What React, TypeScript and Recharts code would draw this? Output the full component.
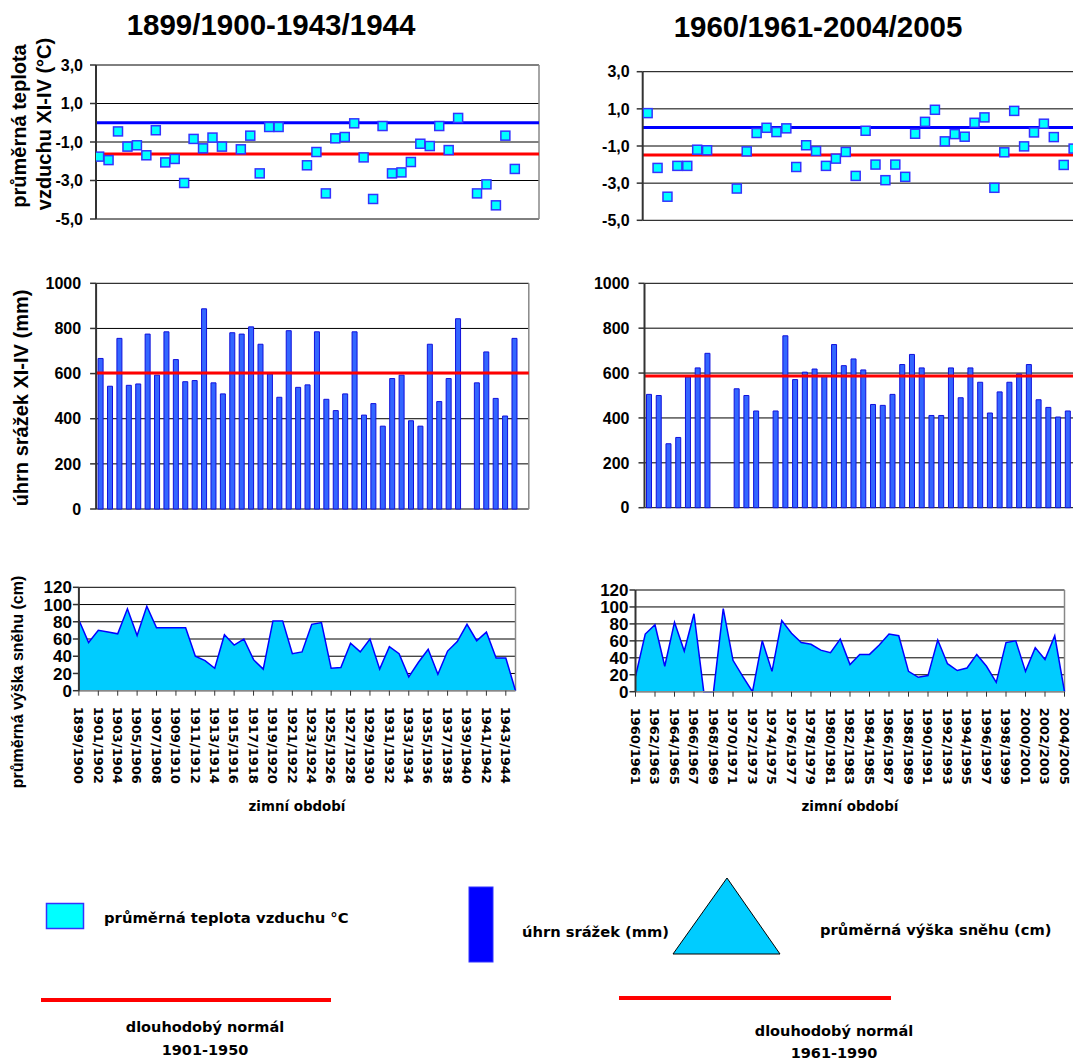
import React from "react";
import {
  ScatterChart,
  Scatter,
  BarChart,
  Bar,
  AreaChart,
  Area,
  XAxis,
  YAxis,
  CartesianGrid,
  ReferenceLine,
} from "recharts";

const ARIAL = "'Liberation Sans', Arial, sans-serif";
const DEJAVU = "'DejaVu Sans', Verdana, sans-serif";

// zimní období
const SEASONS_OLD = [
  "1899/1900", "1900/1901", "1901/1902", "1902/1903", "1903/1904", "1904/1905", "1905/1906", "1906/1907",
  "1907/1908", "1908/1909", "1909/1910", "1910/1911", "1911/1912", "1912/1913", "1913/1914", "1914/1915",
  "1915/1916", "1916/1917", "1917/1918", "1918/1919", "1919/1920", "1920/1921", "1921/1922", "1922/1923",
  "1923/1924", "1924/1925", "1925/1926", "1926/1927", "1927/1928", "1928/1929", "1929/1930", "1930/1931",
  "1931/1932", "1932/1933", "1933/1934", "1934/1935", "1935/1936", "1936/1937", "1937/1938", "1938/1939",
  "1939/1940", "1940/1941", "1941/1942", "1942/1943", "1943/1944", "1944/1945",
];
const SEASONS_NEW = [
  "1960/1961", "1961/1962", "1962/1963", "1963/1964", "1964/1965", "1965/1966", "1966/1967", "1967/1968",
  "1968/1969", "1969/1970", "1970/1971", "1971/1972", "1972/1973", "1973/1974", "1974/1975", "1975/1976",
  "1976/1977", "1977/1978", "1978/1979", "1979/1980", "1980/1981", "1981/1982", "1982/1983", "1983/1984",
  "1984/1985", "1985/1986", "1986/1987", "1987/1988", "1988/1989", "1989/1990", "1990/1991", "1991/1992",
  "1992/1993", "1993/1994", "1994/1995", "1995/1996", "1996/1997", "1997/1998", "1998/1999", "1999/2000",
  "2000/2001", "2001/2002", "2002/2003", "2003/2004", "2004/2005",
];

// průměrná teplota vzduchu XI-IV (°C)
const TEMP_OLD = [
  -1.76, -1.94, -0.45, -1.24, -1.17, -1.69, -0.39, -2.06, -1.88, -3.13,
  -0.84, -1.33, -0.77, -1.24, null, -1.38, -0.67, -2.63, -0.22, -0.22,
  null, null, -2.21, -1.52, -3.67, -0.81, -0.74, -0.03, -1.8, -3.96,
  -0.17, -2.63, -2.58, -2.04, -1.09, -1.21, -0.17, -1.42, 0.25, null,
  -3.67, -3.2, -4.29, -0.67, -2.4,
];
const TEMP_NEW = [
  0.77, -2.18, -3.73, -2.07, -2.07, -1.2, -1.23, null, null, -3.29,
  -1.29, -0.3, -0.02, -0.25, -0.05, -2.13, -0.96, -1.27, -2.07, -1.68,
  -1.32, -2.61, -0.18, -2.0, -2.84, -2.0, -2.66, -0.34, 0.3, 0.95,
  -0.75, -0.36, -0.5, 0.25, 0.54, -3.25, -1.34, 0.89, -1.02, -0.27,
  0.2, -0.52, -2.02, -1.14, null,
];
const TEMP_ZERO = 0;
const TEMP_NORMAL_OLD = -1.62;
const TEMP_NORMAL_NEW = -1.48;

// úhrn srážek XI-IV (mm)
const PRECIP_OLD = [
  667, 544, 756, 548, 554, 775, 593, 785, 662, 564,
  569, 887, 559, 510, 781, 775, 807, 730, 599, 495,
  790, 539, 550, 785, 486, 436, 510, 785, 416, 467,
  367, 578, 593, 391, 367, 730, 476, 578, 843, null,
  559, 696, 490, 412, 756, null,
];
const PRECIP_NEW = [
  505, 500, 285, 313, 583, 623, 688, null, null, 530,
  500, 431, null, 431, 766, 571, 604, 618, 586, 727,
  633, 663, 614, 460, 456, 505, 638, 683, 623, 411,
  411, 623, 490, 623, 559, 422, 516, 559, 596, 638,
  481, 447, 404, 431, null,
];
const PRECIP_NORMAL_OLD = 603;
const PRECIP_NORMAL_NEW = 587;

// průměrná výška sněhu (cm)
const SNOW_OLD = [
  82, 56, 70, 68, 66, 95, 64, 98, 73, 73,
  73, 73, 40, 35, 26, 65, 53, 60, 36, 25,
  81, 81, 43, 45, 77, 79, 26, 27, 55, 45,
  60, 25, 51, 43, 16, 33, 48, 19, 46, 57,
  77, 58, 68, 38, 38, 0,
];
const SNOW_NEW = [
  18, 68, 79, 30, 82, 48, 92, 0, 0, 98,
  37, 18, 0, 60, 24, 84, 69, 58, 56, 49,
  46, 62, 32, 44, 44, 55, 68, 66, 24, 17,
  19, 61, 33, 25, 28, 44, 30, 11, 58, 60,
  24, 52, 38, 66, 0,
];

const TEMP_TICKS = [-5, -3, -1, 1, 3];
const PRECIP_TICKS = [0, 200, 400, 600, 800, 1000];
const SNOW_TICKS = [0, 20, 40, 60, 80, 100, 120];

const fmtTemp = (v: number) => v.toFixed(1).replace(".", ",");
const rightBorder = ({ offset }: any) => [offset.left + offset.width];

const yTick = (size: number) => ({ fontSize: size, fontWeight: 700, fill: "#000", fontFamily: ARIAL });

const Square = (p: any) =>
  p.cx == null ? null : (
    <rect x={p.cx - 4.5} y={p.cy - 4.5} width={9} height={9} fill="#00ffff" stroke="#3333ff" strokeWidth={1.5} />
  );

const SeasonTick = (props: any) => {
  const { x, y, payload } = props;
  return (
    <text
      transform={`translate(${x - 4.7},${y}) rotate(90)`}
      fontFamily={DEJAVU}
      fontWeight={700}
      fontSize={13}
      fill="#000"
      textAnchor="start"
    >
      {payload.value}
    </text>
  );
};

interface Box {
  left: number;
  top: number;
  width: number;
  height: number;
  margin: { top: number; right: number; bottom: number; left: number };
}

const TempChart = ({ values, normal, box, domain }: { values: (number | null)[]; normal: number; box: Box; domain: [number, number] }) => {
  const data = values.map((t, i) => ({ x: i + 1, t })).filter((d) => d.t !== null);
  return (
    <div style={{ position: "absolute", left: box.left, top: box.top }}>
      <ScatterChart width={box.width} height={box.height} margin={box.margin}>
        <CartesianGrid vertical={false} stroke="#000" />
        <CartesianGrid horizontal={false} stroke="#888" strokeWidth={1.5} verticalCoordinatesGenerator={rightBorder} />
        <XAxis type="number" dataKey="x" domain={domain} allowDataOverflow height={0} tick={false} tickLine={false} axisLine={{ stroke: "#888", strokeWidth: 1.5 }} />
        <YAxis
          type="number"
          dataKey="t"
          domain={[-5, 3]}
          ticks={TEMP_TICKS}
          interval={0}
          width={60}
          tickSize={6}
          tickMargin={7}
          tickFormatter={fmtTemp}
          tick={yTick(16)}
          axisLine={{ stroke: "#333", strokeWidth: 2 }}
          tickLine={{ stroke: "#333", strokeWidth: 1.5 }}
        />
        <ReferenceLine y={TEMP_ZERO} stroke="#0000ff" strokeWidth={3} />
        <ReferenceLine y={normal} stroke="#ff0000" strokeWidth={3} />
        <Scatter data={data} shape={Square} isAnimationActive={false} />
      </ScatterChart>
    </div>
  );
};

const PrecipChart = ({ labels, values, normal, box }: { labels: string[]; values: (number | null)[]; normal: number; box: Box }) => {
  const data = values.map((v, i) => ({ s: labels[i], v }));
  return (
    <div style={{ position: "absolute", left: box.left, top: box.top }}>
      <BarChart width={box.width} height={box.height} margin={box.margin} data={data} barCategoryGap={0}>
        <CartesianGrid vertical={false} stroke="#000" />
        <CartesianGrid horizontal={false} stroke="#888" strokeWidth={1.5} verticalCoordinatesGenerator={rightBorder} />
        <XAxis dataKey="s" height={0} tick={false} tickLine={false} axisLine={{ stroke: "#888", strokeWidth: 1.5 }} />
        <YAxis
          domain={[0, 1000]}
          ticks={PRECIP_TICKS}
          interval={0}
          width={60}
          tickSize={6}
          tickMargin={9}
          tick={yTick(16)}
          axisLine={{ stroke: "#333", strokeWidth: 2 }}
          tickLine={{ stroke: "#333", strokeWidth: 1.5 }}
        />
        <Bar dataKey="v" barSize={5} fill="#3366ff" stroke="#1111dd" strokeWidth={1} isAnimationActive={false} />
        <ReferenceLine y={normal} stroke="#ff0000" strokeWidth={3} />
      </BarChart>
    </div>
  );
};

const SnowChart = ({ labels, values, box }: { labels: string[]; values: number[]; box: Box }) => {
  const data = values.map((v, i) => ({ s: labels[i], v }));
  return (
    <div style={{ position: "absolute", left: box.left, top: box.top }}>
      <AreaChart width={box.width} height={box.height} margin={box.margin} data={data}>
        <CartesianGrid vertical={false} stroke="#000" />
        <CartesianGrid horizontal={false} stroke="#888" strokeWidth={1.5} verticalCoordinatesGenerator={rightBorder} />
        <XAxis
          dataKey="s"
          interval={1}
          height={100}
          tickSize={5}
          tickMargin={11}
          tick={<SeasonTick />}
          axisLine={{ stroke: "#888", strokeWidth: 1.5 }}
          tickLine={{ stroke: "#333" }}
        />
        <YAxis
          domain={[0, 120]}
          ticks={SNOW_TICKS}
          interval={0}
          width={60}
          tickSize={6}
          tickMargin={1}
          tick={yTick(17)}
          axisLine={{ stroke: "#333", strokeWidth: 2 }}
          tickLine={{ stroke: "#333", strokeWidth: 1.5 }}
        />
        <Area type="linear" dataKey="v" fill="#00ccff" fillOpacity={1} stroke="#0000ff" strokeWidth={1.5} isAnimationActive={false} />
      </AreaChart>
    </div>
  );
};

const Overlay = () => {
  const bold = { fontWeight: 700, fill: "#000" } as const;
  return (
    <svg width={1073} height={1063} style={{ position: "absolute", left: 0, top: 0, pointerEvents: "none" }}>
      <text x={271} y={35} textAnchor="middle" fontFamily={ARIAL} fontSize={29.5} {...bold}>1899/1900-1943/1944</text>
      <text x={818} y={37} textAnchor="middle" fontFamily={ARIAL} fontSize={29.5} {...bold}>1960/1961-2004/2005</text>

      <text transform="translate(26,126) rotate(-90)" textAnchor="middle" fontFamily={ARIAL} fontSize={20} {...bold}>průměrná teplota</text>
      <text transform="translate(51,124) rotate(-90)" textAnchor="middle" fontFamily={ARIAL} fontSize={20} {...bold}>vzduchu XI-IV (°C)</text>
      <text transform="translate(28,398) rotate(-90)" textAnchor="middle" fontFamily={ARIAL} fontSize={20} {...bold}>úhrn srážek  XI-IV (mm)</text>
      <text transform="translate(23,682) rotate(-90)" textAnchor="middle" fontFamily={ARIAL} fontSize={16} {...bold}>průměrná výška sněhu (cm)</text>

      <text x={297} y={811} textAnchor="middle" fontFamily={DEJAVU} fontSize={13.4} {...bold}>zimní období</text>
      <text x={850} y={811} textAnchor="middle" fontFamily={DEJAVU} fontSize={13.4} {...bold}>zimní období</text>

      <rect x={46.5} y={903.5} width={37} height={25} fill="#00ffff" stroke="#3333ff" strokeWidth={1.5} />
      <text x={104} y={923} fontFamily={DEJAVU} fontSize={14.8} {...bold}>průměrná teplota vzduchu °C</text>
      <rect x={469} y={887} width={24} height={75} fill="#0000ff" stroke="#3333ff" strokeWidth={1} />
      <text x={522} y={937} fontFamily={DEJAVU} fontSize={14.7} {...bold}>úhrn srážek (mm)</text>
      <polygon points="727,878 673,954 780,954" fill="#00ccff" stroke="#000" strokeWidth={1} />
      <text x={820} y={935} fontFamily={DEJAVU} fontSize={14.7} {...bold}>průměrná výška sněhu (cm)</text>

      <line x1={41} y1={1000} x2={331} y2={1000} stroke="#ff0000" strokeWidth={4} />
      <line x1={619} y1={998} x2={891} y2={998} stroke="#ff0000" strokeWidth={4} />
      <text x={205} y={1032} textAnchor="middle" fontFamily={DEJAVU} fontSize={14.5} {...bold}>dlouhodobý normál</text>
      <text x={205} y={1055} textAnchor="middle" fontFamily={DEJAVU} fontSize={14.5} {...bold}>1901-1950</text>
      <text x={834} y={1036} textAnchor="middle" fontFamily={DEJAVU} fontSize={14.5} {...bold}>dlouhodobý normál</text>
      <text x={834} y={1058} textAnchor="middle" fontFamily={DEJAVU} fontSize={14.5} {...bold}>1961-1990</text>
    </svg>
  );
};

export default function App() {
  return (
    <div style={{ position: "absolute", left: 0, top: 0, width: 1073, height: 1063, overflow: "hidden", background: "#fff", fontFamily: ARIAL }}>
      <TempChart
        values={TEMP_OLD}
        normal={TEMP_NORMAL_OLD}
        domain={[0.67, 47.56]}
        box={{ left: 0, top: 0, width: 545, height: 240, margin: { top: 65, right: 6, bottom: 21, left: 36 } }}
      />
      <TempChart
        values={TEMP_NEW}
        normal={TEMP_NORMAL_NEW}
        domain={[0.5, 47.5]}
        box={{ left: 560, top: 0, width: 560, height: 240, margin: { top: 71.7, right: 11.7, bottom: 19.7, left: 22.7 } }}
      />
      <PrecipChart
        labels={SEASONS_OLD}
        values={PRECIP_OLD}
        normal={PRECIP_NORMAL_OLD}
        box={{ left: 0, top: 260, width: 545, height: 270, margin: { top: 23.3, right: 16.2, bottom: 21, left: 36.1 } }}
      />
      <PrecipChart
        labels={SEASONS_NEW}
        values={PRECIP_NEW}
        normal={PRECIP_NORMAL_NEW}
        box={{ left: 560, top: 260, width: 560, height: 270, margin: { top: 23.3, right: 37.2, bottom: 22.3, left: 24.5 } }}
      />
      <SnowChart
        labels={SEASONS_OLD}
        values={SNOW_OLD}
        box={{ left: 0, top: 560, width: 540, height: 250, margin: { top: 27.3, right: 24.5, bottom: 19.3, left: 18.9 } }}
      />
      <SnowChart
        labels={SEASONS_NEW}
        values={SNOW_NEW}
        box={{ left: 560, top: 560, width: 520, height: 250, margin: { top: 30, right: 15.5, bottom: 18.3, left: 15.5 } }}
      />
      <Overlay />
    </div>
  );
}
